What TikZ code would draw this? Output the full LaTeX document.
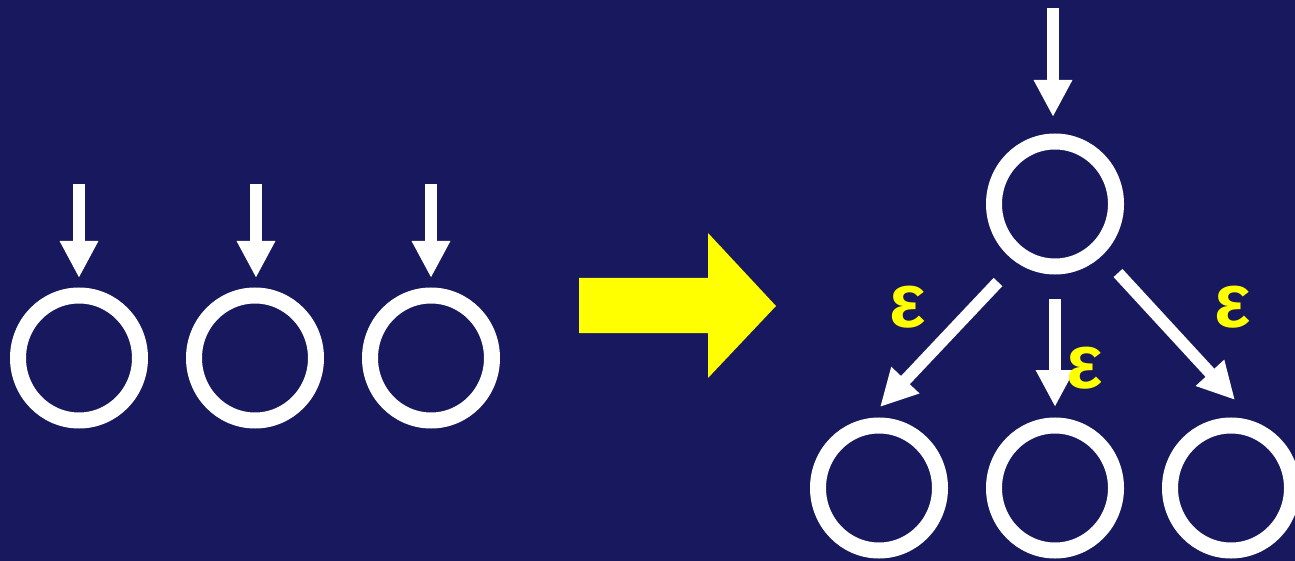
\documentclass[tikz,border=0pt]{standalone}
\usepackage{fontspec}
\setmainfont{Liberation Sans}
\usetikzlibrary{arrows.meta,shapes.geometric}
\definecolor{bg}{RGB}{24,24,94}
\definecolor{eps}{RGB}{255,255,0}
\begin{document}
\begin{tikzpicture}[x=1pt,y=-1pt,
  state/.style={ellipse,draw=white,line width=16pt,minimum width=122pt,minimum height=125pt,inner sep=0pt},
  arr/.style={draw=white,line width=12pt,-{Triangle[length=37pt,width=36pt]}},
  lab/.style={text=eps,font=\fontsize{77}{77}\selectfont\bfseries,inner sep=0pt}]
\fill[bg] (0,0) rectangle (1295,561);
\useasboundingbox (0,0) rectangle (1295,561);
% left: three start states
\node[state] (l1) at (79,358) {};
\node[state] (l2) at (255,358) {};
\node[state] (l3) at (431,358) {};
\coordinate (s1) at (79,184);
\coordinate (s2) at (256,184);
\coordinate (s3) at (431,184);
\coordinate (t1) at (79,278);
\coordinate (t2) at (256,278);
\coordinate (t3) at (431,278);
\draw[arr] (s1) -- (t1);
\draw[arr] (s2) -- (t2);
\draw[arr] (s3) -- (t3);
% big yellow arrow
\fill[eps] (579,278) -- (708,278) -- (708,233) -- (776,306) -- (708,378) -- (708,333) -- (579,333) -- cycle;
% right: new start state
\node[state] (top) at (1055,204) {};
\node[state] (b1) at (879,488) {};
\node[state] (b2) at (1055,488) {};
\node[state] (b3) at (1231,488) {};
\coordinate (ts) at (1053,8);
\coordinate (te) at (1053,117);
\draw[arr] (ts) -- (te);
\coordinate (e1s) at (998,282);
\coordinate (e1e) at (880,407);
\coordinate (e2s) at (1055,299);
\coordinate (e2e) at (1055,407);
\coordinate (e3s) at (1118,273);
\coordinate (e3e) at (1235,400);
\draw[arr] (e1s) -- (e1e);
\draw[arr] (e2s) -- (e2e);
\draw[arr] (e3s) -- (e3e);
\node[lab] (eps1) at (908,307) {ε};
\node[lab] (eps2) at (1085,368) {ε};
\node[lab] (eps3) at (1233,307) {ε};
\end{tikzpicture}
\end{document}
